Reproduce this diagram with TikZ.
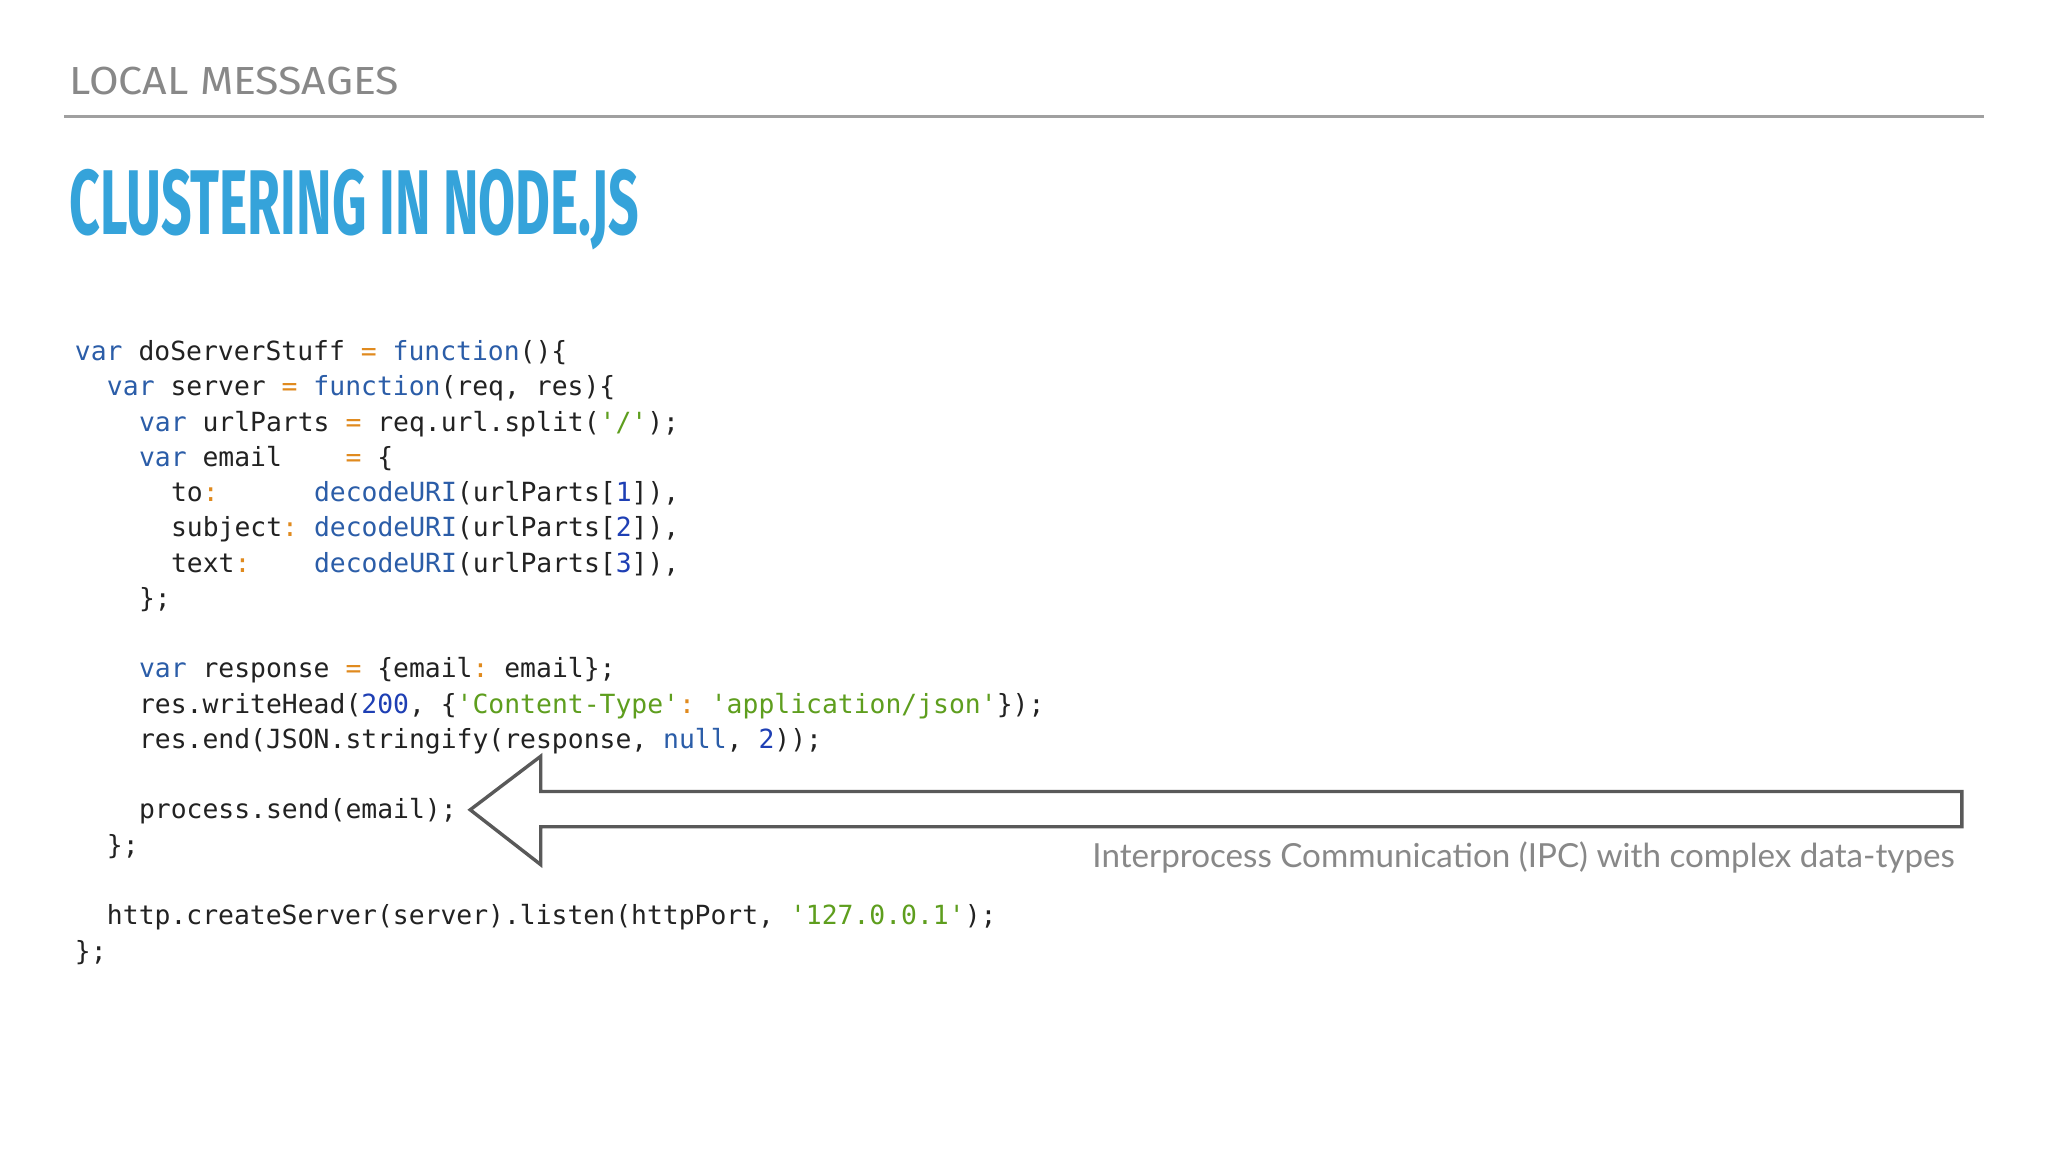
\documentclass[tikz,border=0pt]{standalone}
\usepackage{fontspec}
\usepackage{graphicx}
\setmainfont{Lato}
\setmonofont{DejaVu Sans Mono}
\newfontfamily\headfont{Fira Sans}
\newfontfamily\lblfont[Renderer=Basic,Contextuals=NoAlternate]{Lato}
\definecolor{kw}{HTML}{2B5DA8}
\definecolor{opc}{HTML}{E08A1E}
\definecolor{strc}{HTML}{5E9E1E}
\definecolor{numc}{HTML}{1E3FB4}
\definecolor{txt}{HTML}{222222}
\definecolor{ttl}{HTML}{35A3DA}
\definecolor{gry}{HTML}{888888}
\newcommand{\ckw}[1]{\textcolor{kw}{#1}}
\newcommand{\cop}[1]{\textcolor{opc}{#1}}
\newcommand{\cstr}[1]{\textcolor{strc}{#1}}
\newcommand{\cnum}[1]{\textcolor{numc}{#1}}
\begin{document}
\begin{tikzpicture}[x=0.5pt,y=-0.5pt,
  code/.style={anchor=base west,inner sep=0,text=txt,font=\ttfamily\fontsize{10.1}{12}\selectfont}]
\useasboundingbox[fill=white] (0,0) rectangle (1568,882);
\node[anchor=south west,inner sep=0,text=gry] (hdr) at (53,73) {\resizebox{126pt}{10.5pt}{\headfont LOCAL MESSAGES}};
\draw[gry!80,line width=1.2] (49,89) -- (1519,89);
\node[anchor=south west,inner sep=0,text=ttl] (title) at (53,192) {\resizebox{218pt}{25pt}{\headfont\bfseries CLUSTERING IN NODE.JS}};
\def\cw{12.26}
\node[code] (l1) at (57,276) {\ckw{var} doServerStuff \cop{=} \ckw{function}()\{};
\node[code] (l2) at (57+2*\cw,303) {\ckw{var} server \cop{=} \ckw{function}(req, res)\{};
\node[code] (l3) at (57+4*\cw,330) {\ckw{var} urlParts \cop{=} req.url.split(\cstr{'/'});};
\node[code] (l4) at (57+4*\cw,357) {\ckw{var} email~~~~\cop{=} \{};
\node[code] (l5) at (57+6*\cw,384) {to\cop{:}~~~~~~\ckw{decodeURI}(urlParts[\cnum{1}]),};
\node[code] (l6) at (57+6*\cw,411) {subject\cop{:} \ckw{decodeURI}(urlParts[\cnum{2}]),};
\node[code] (l7) at (57+6*\cw,438) {text\cop{:}~~~~\ckw{decodeURI}(urlParts[\cnum{3}]),};
\node[code] (l8) at (57+4*\cw,465) {\};};
\node[code] (l9) at (57+4*\cw,519) {\ckw{var} response \cop{=} \{email\cop{:} email\};};
\node[code] (l10) at (57+4*\cw,546) {res.writeHead(\cnum{200}, \{\cstr{'Content-Type'}\cop{:} \cstr{'application/json'}\});};
\node[code] (l11) at (57+4*\cw,573) {res.end(JSON.stringify(response, \ckw{null}, \cnum{2}));};
\node[code] (l12) at (57+4*\cw,627) {process.send(email);};
\node[code] (l13) at (57+2*\cw,654) {\};};
\node[code] (l14) at (57+2*\cw,708) {http.createServer(server).listen(httpPort, \cstr{'127.0.0.1'});};
\node[code] (l15) at (57,735) {\};};
\draw[draw=black!65,line width=1.3,fill=white,line join=miter]
  (360,620) -- (414,579) -- (414,606) -- (1502,606) -- (1502,633) -- (414,633) -- (414,662) -- cycle;
\node[anchor=base east,inner sep=0,text=gry,font=\fontsize{12.7}{14}\selectfont] (ipc) at (1497,664) {Interprocess Communica{}tion (IPC) with complex data-types};
\end{tikzpicture}
\end{document}
